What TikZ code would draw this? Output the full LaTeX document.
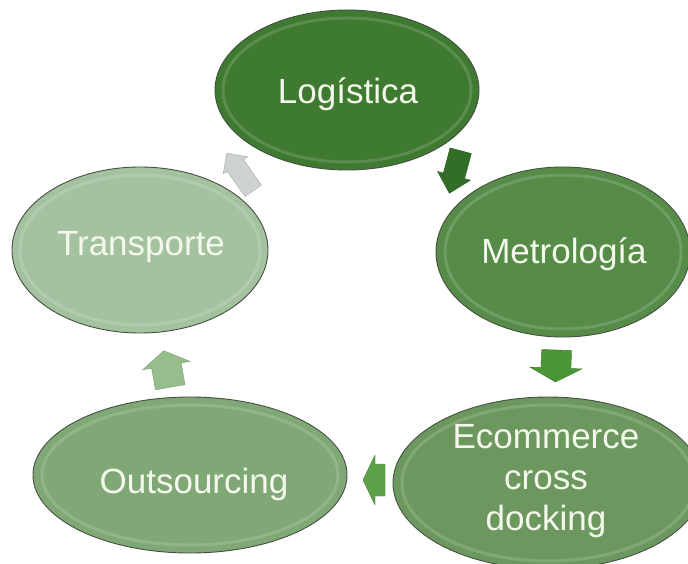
\documentclass[tikz,border=0pt]{standalone}
\usepackage{fontspec}
\setmainfont{Liberation Sans}
\usetikzlibrary{shapes.geometric}
\definecolor{cA}{RGB}{62,122,48}
\definecolor{cB}{RGB}{86,140,72}
\definecolor{cC}{RGB}{108,152,96}
\definecolor{cD}{RGB}{128,168,118}
\definecolor{cE}{RGB}{164,194,160}
\definecolor{rim}{RGB}{70,80,65}
\definecolor{txt}{RGB}{244,248,236}
\definecolor{aA}{RGB}{50,110,40}
\definecolor{aB}{RGB}{72,150,52}
\definecolor{aC}{RGB}{92,160,72}
\definecolor{aD}{RGB}{150,190,140}
\definecolor{aE}{RGB}{206,210,206}
\tikzset{
  bubble/.style={ellipse, draw=rim, line width=0.9pt, inner sep=0pt},
  label/.style={text=txt, font=\fontsize{35}{41}\selectfont, align=center, inner sep=0pt},
  blockfill/.style={fill=#1, draw=#1!80!black, line width=0.4pt, line join=miter},
}
% #1 name, #2 x, #3 y, #4 angle, #5 length, #6 head half-width, #7 shaft half-width, #8 head length, #9 colour
\newcommand\BlockArr[9]{%
  \coordinate (#1) at (#2,#3);
  \begin{scope}[shift={(#1)}, rotate=#4]
    \filldraw[blockfill=#9]
      ({-#5/2},{-#7}) -- ({#5/2-#8},{-#7}) -- ({#5/2-#8},{-#6}) -- ({#5/2},0)
      -- ({#5/2-#8},{#6}) -- ({#5/2-#8},{#7}) -- ({-#5/2},{#7}) -- cycle;
  \end{scope}}
\begin{document}
\begin{tikzpicture}[x=1pt,y=1pt]
\useasboundingbox (0,0) rectangle (688,563);
\clip (0,0) rectangle (688,563);
\fill[white] (0,0) rectangle (688,563);
% ellipses (y = 563 - pixel y)
\node[bubble, fill=cA, minimum width=264, minimum height=160] (log) at (347,473) {};
\node[bubble, fill=cB, minimum width=254, minimum height=170] (met) at (563,311) {};
\node[bubble, fill=cC, minimum width=310, minimum height=172] (eco) at (548,80) {};
\node[bubble, fill=cD, minimum width=314, minimum height=156] (out) at (190,88) {};
\node[bubble, fill=cE, minimum width=256, minimum height=166] (tra) at (140,313) {};
% soft inner rims
\foreach \n/\rx/\ry in {log/124/72, met/118/77, eco/146/78, out/148/70, tra/120/75}
  \draw[white, opacity=0.15, line width=3pt] (\n.center) ellipse [x radius=\rx, y radius=\ry];
% labels
\node[label] (logt) at (348,469) {Logística};
\node[label] (mett) at (564,309) {Metrología};
\node[label] (ecot) at (546,82) {Ecommerce\\cross\\docking};
\node[label] (outt) at (194,79) {Outsourcing};
\node[label] (trat) at (141,316) {Transporte};
% block arrows
\BlockArr{a1}{455}{391}{-105}{44}{17}{11}{18}{aA}
\BlockArr{a2}{556}{197}{-92}{32}{26}{15}{14}{aB}
\BlockArr{a3}{374}{83}{180}{22}{25}{16}{12}{aC}
\BlockArr{a4}{167}{194}{100}{37}{24}{15}{15}{aD}
\BlockArr{a5}{240}{391}{125}{46}{15}{10}{15}{aE}
\end{tikzpicture}
\end{document}
